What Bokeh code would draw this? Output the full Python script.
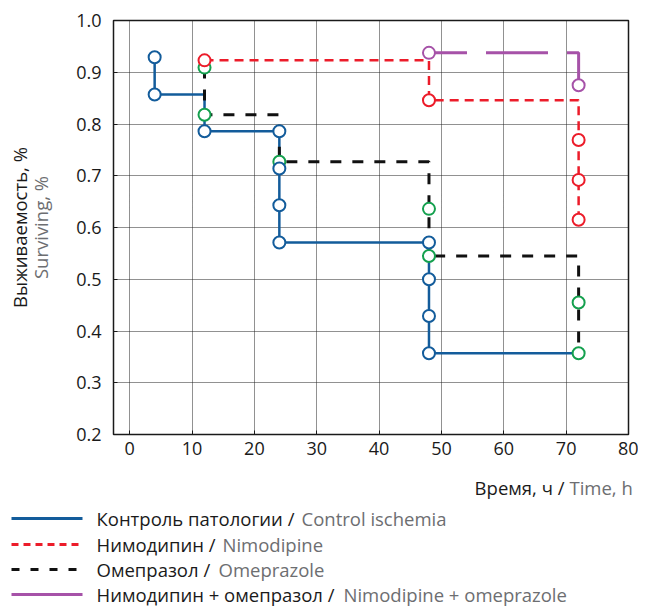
from bokeh.plotting import figure
from bokeh.models import FixedTicker, LinearAxis, Range1d
from bokeh.layouts import column
from bokeh.embed import file_html
from bokeh.resources import INLINE
from bokeh.core.properties import value

# ---------------- data ----------------
x_ticks = [0, 10, 20, 30, 40, 50, 60, 70, 80]
y_ticks = [0.2, 0.3, 0.4, 0.5, 0.6, 0.7, 0.8, 0.9, 1.0]
y_tick_labels = ["0.2", "0.3", "0.4", "0.5", "0.6", "0.7", "0.8", "0.9", "1.0"]

# Control ischemia (step path + markers)
control_step_t = [4, 4, 12, 24, 48, 72]
control_step_s = [0.929, 0.857, 0.786, 0.571, 0.357, 0.357]
control_pts_t = [4, 4, 12, 24, 24, 24, 24, 48, 48, 48, 48]
control_pts_s = [0.929, 0.857, 0.786, 0.786, 0.714, 0.643, 0.571, 0.571, 0.500, 0.429, 0.357]

# Nimodipine
nimo_step_t = [12, 48, 72]
nimo_step_s = [0.923, 0.846, 0.615]
nimo_pts_t = [12, 48, 72, 72, 72]
nimo_pts_s = [0.923, 0.846, 0.769, 0.692, 0.615]

# Omeprazole
omep_step_t = [12, 12, 24, 48, 72]
omep_step_s = [0.909, 0.818, 0.727, 0.545, 0.357]
omep_pts_t = [12, 12, 24, 48, 48, 72, 72]
omep_pts_s = [0.909, 0.818, 0.727, 0.636, 0.545, 0.455, 0.357]

# Nimodipine + omeprazole
combo_step_t = [48, 72]
combo_step_s = [0.9375, 0.875]
combo_pts_t = [48, 72]
combo_pts_s = [0.9375, 0.875]

names_ru = ["Контроль патологии /", "Нимодипин /", "Омепразол /", "Нимодипин + омепразол /"]
names_en = ["Control ischemia", "Nimodipine", "Omeprazole", "Nimodipine + omeprazole"]

x_label_ru = "Время, ч /"
x_label_en = "Time, h"
y_label_ru = "Выживаемость, %"
y_label_en = "Surviving, %"

# ---------------- styles ----------------
BLUE = "#135c9b"
RED = "#ec1c2a"
BLACK = "#111111"
GREEN = "#14a04e"
PURPLE = "#a652a8"
GRAY = "#6d6e71"
TXT = "#1a1a1a"
FONT = "Open Sans"
FS = "18px"
FSL = "18.5px"

W = 638
H1 = 472
H2 = 138

p = figure(width=W, height=H1, x_range=Range1d(-2.6, 80), y_range=Range1d(0.2, 1.0),
           output_backend="svg", toolbar_location=None,
           min_border_left=113, min_border_right=10, min_border_top=20, min_border_bottom=38)
p.frame_align = False
p.background_fill_color = "white"
p.outline_line_color = TXT
p.outline_line_width = 1.5

p.xaxis.ticker = FixedTicker(ticks=x_ticks)
p.yaxis.ticker = FixedTicker(ticks=y_ticks)
p.yaxis.major_label_overrides = {t: l for t, l in zip(y_ticks, y_tick_labels)}
for ax in (p.xaxis[0], p.yaxis[0]):
    ax.axis_line_color = None
    ax.major_tick_in = 4
    ax.major_tick_out = 0
    ax.major_tick_line_color = TXT
    ax.minor_tick_line_color = None
    ax.major_label_text_font = FONT
    ax.major_label_text_font_size = FS
    ax.major_label_text_color = TXT
p.xaxis.major_label_standoff = 7
p.yaxis.major_label_standoff = 12

p.yaxis.axis_label = y_label_en
p.yaxis.axis_label_text_color = GRAY
p.yaxis.axis_label_text_font = FONT
p.yaxis.axis_label_text_font_size = FSL
p.yaxis.axis_label_text_font_style = "normal"
p.yaxis.axis_label_standoff = 20

ax2 = LinearAxis(axis_label=y_label_ru, ticker=FixedTicker(ticks=[]),
                 axis_line_color=None, major_tick_line_color=None, minor_tick_line_color=None,
                 major_tick_in=0, major_tick_out=0, minor_tick_in=0, minor_tick_out=0,
                 major_label_text_font_size="0px", major_label_standoff=0,
                 axis_label_standoff=-6, axis_label_text_color=TXT, axis_label_text_font=FONT,
                 axis_label_text_font_size=FSL, axis_label_text_font_style="normal")
p.add_layout(ax2, "left")

p.grid.grid_line_color = "#222222"
p.grid.grid_line_dash = "1 1"
p.grid.grid_line_width = 1

# lines
p.step(control_step_t, control_step_s, mode="after", line_color=BLUE, line_width=2.5)
p.step(omep_step_t, omep_step_s, mode="after", line_color=BLACK, line_width=3, line_dash="11 11")
p.step(nimo_step_t, nimo_step_s, mode="after", line_color=RED, line_width=2.5, line_dash="9 6")
p.step(combo_step_t, combo_step_s, mode="after", line_color=PURPLE, line_width=3,
       line_dash="62 19", line_dash_offset=24)

# markers
mk = dict(size=12, line_width=2, fill_color="white")
p.scatter(omep_pts_t, omep_pts_s, marker="circle", line_color=GREEN, **mk)
p.scatter(control_pts_t, control_pts_s, marker="circle", line_color=BLUE, **mk)
p.scatter(nimo_pts_t, nimo_pts_s, marker="circle", line_color=RED, **mk)
p.scatter(combo_pts_t, combo_pts_s, marker="circle", line_color=PURPLE, **mk)

# ---------------- legend / x label figure ----------------
q = figure(width=W, height=H2, x_range=Range1d(0, W), y_range=Range1d(H2, 0),
           x_axis_type=None, y_axis_type=None, output_backend="svg", toolbar_location=None,
           min_border=0, outline_line_color=None)
q.frame_align = False

# x-axis label
q.text(x=[564], y=[15], text=[x_label_ru], text_align="right", text_baseline="middle",
       text_font=value(FONT), text_font_size=FSL, text_color=TXT)
q.text(x=[569], y=[15], text=[x_label_en], text_align="left", text_baseline="middle",
       text_font=value(FONT), text_font_size=FSL, text_color=GRAY)

row_y = [46, 72, 97, 122]
leg_colors = [BLUE, RED, BLACK, PURPLE]
leg_dash = ["solid", "7 5", "8 11", "solid"]
en_x = [301, 222, 218, 343]
for yy, c, d in zip(row_y, leg_colors, leg_dash):
    q.line([11, 82], [yy, yy], line_color=c, line_width=3, line_dash=d)
q.text(x=[96] * 4, y=row_y, text=names_ru, text_align="left", text_baseline="middle",
       text_font=value(FONT), text_font_size=FSL, text_color=TXT)
q.text(x=en_x, y=row_y, text=names_en, text_align="left", text_baseline="middle",
       text_font=value(FONT), text_font_size=FSL, text_color=GRAY)

layout = column(p, q)
open("out.html", "w").write(file_html(layout, INLINE))
